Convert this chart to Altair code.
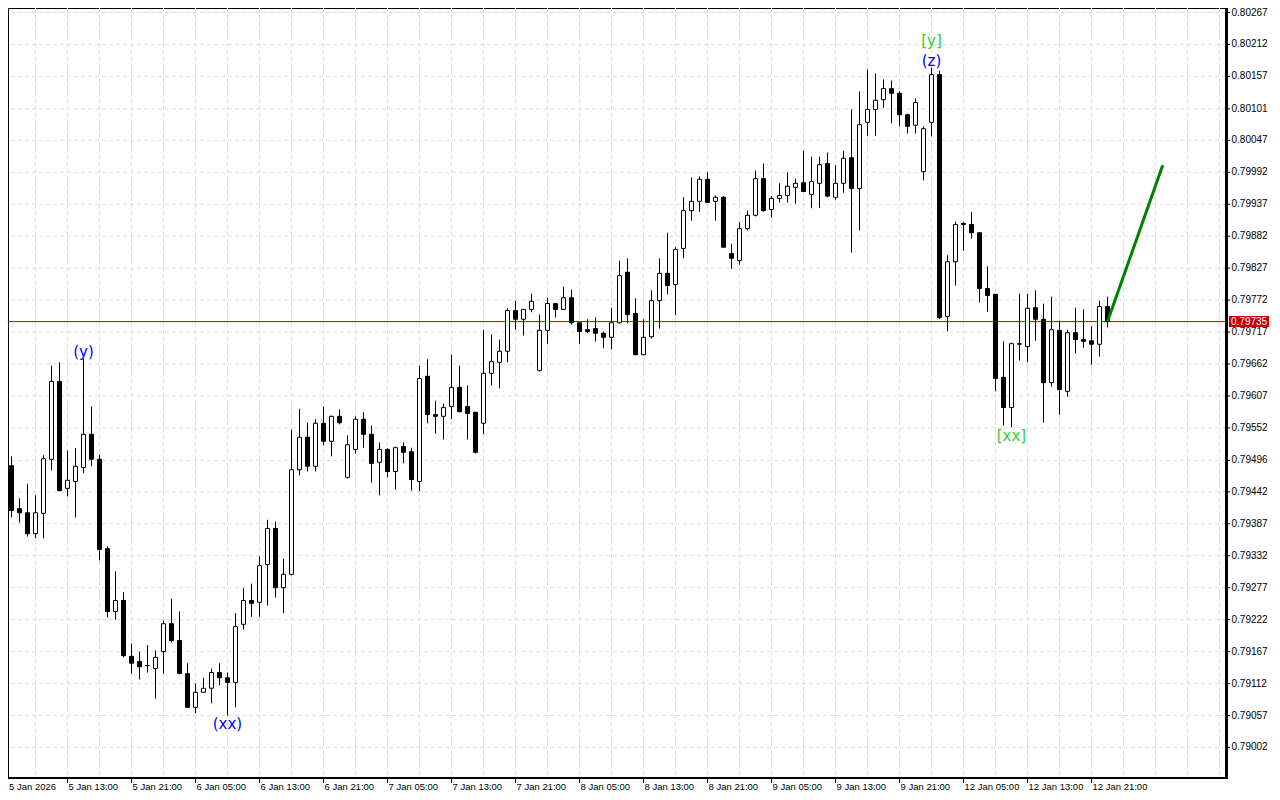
import altair as alt
import pandas as pd

# ---- OHLC of the hourly bars (5 Jan 2026 05:00 ... 12 Jan 2026 23:00) ----
open_ = [0.79357, 0.79487, 0.79413, 0.79406, 0.79370, 0.79405, 0.79498, 0.79632, 0.79448, 0.79460,
         0.79484, 0.79541, 0.79498, 0.79344, 0.79236, 0.79255, 0.79159, 0.79150, 0.79143, 0.79138,
         0.79167, 0.79215, 0.79186, 0.79129, 0.79071, 0.79097, 0.79104, 0.79131, 0.79122, 0.79114,
         0.79214, 0.79255, 0.79252, 0.79317, 0.79379, 0.79277, 0.79300, 0.79480, 0.79536, 0.79486,
         0.79560, 0.79529, 0.79572, 0.79467, 0.79515, 0.79567, 0.79541, 0.79493, 0.79515, 0.79477,
         0.79520, 0.79511, 0.79460, 0.79641, 0.79575, 0.79572, 0.79589, 0.79622, 0.79589, 0.79579,
         0.79560, 0.79646, 0.79665, 0.79684, 0.79754, 0.79739, 0.79756, 0.79651, 0.79720, 0.79766,
         0.79756, 0.79776, 0.79733, 0.79721, 0.79723, 0.79715, 0.79708, 0.79733, 0.79820, 0.79749,
         0.79678, 0.79709, 0.79771, 0.79818, 0.79799, 0.79861, 0.79926, 0.79942, 0.79980, 0.79942,
         0.79949, 0.79852, 0.79840, 0.79895, 0.79918, 0.79981, 0.79928, 0.79947, 0.79952, 0.79966,
         0.79974, 0.79954, 0.79973, 0.80007, 0.79949, 0.79973, 0.80017, 0.79964, 0.80078, 0.80100,
         0.80117, 0.80136, 0.80128, 0.80091, 0.80073, 0.79993, 0.80078, 0.80160, 0.79744, 0.79838,
         0.79904, 0.79902, 0.79888, 0.79792, 0.79782, 0.79639, 0.79587, 0.79696, 0.79692, 0.79759,
         0.79739, 0.79630, 0.79720, 0.79615, 0.79716, 0.79704, 0.79702, 0.79696, 0.79761]
high = [0.79499, 0.79503, 0.79431, 0.79456, 0.79436, 0.79505, 0.79659, 0.79665, 0.79513, 0.79517,
        0.79671, 0.79589, 0.79506, 0.79348, 0.79305, 0.79269, 0.79181, 0.79167, 0.79178, 0.79169,
        0.79221, 0.79258, 0.79236, 0.79147, 0.79112, 0.79122, 0.79138, 0.79147, 0.79131, 0.79233,
        0.79276, 0.79284, 0.79331, 0.79394, 0.79391, 0.79327, 0.79549, 0.79585, 0.79561, 0.79567,
        0.79589, 0.79573, 0.79584, 0.79539, 0.79572, 0.79579, 0.79556, 0.79527, 0.79517, 0.79520,
        0.79527, 0.79518, 0.79659, 0.79670, 0.79599, 0.79594, 0.79678, 0.79659, 0.79625, 0.79579,
        0.79721, 0.79713, 0.79704, 0.79758, 0.79771, 0.79756, 0.79783, 0.79747, 0.79776, 0.79766,
        0.79795, 0.79790, 0.79733, 0.79739, 0.79742, 0.79718, 0.79759, 0.79840, 0.79844, 0.79775,
        0.79739, 0.79789, 0.79844, 0.79888, 0.79863, 0.79949, 0.79983, 0.79985, 0.79992, 0.79952,
        0.79951, 0.79869, 0.79906, 0.79926, 0.79995, 0.80007, 0.79951, 0.79973, 0.79992, 0.79981,
        0.80029, 0.80019, 0.80019, 0.80026, 0.80004, 0.80029, 0.80100, 0.80131, 0.80169, 0.80162,
        0.80152, 0.80150, 0.80131, 0.80093, 0.80119, 0.80071, 0.80172, 0.80167, 0.79849, 0.79907,
        0.79906, 0.79924, 0.79888, 0.79830, 0.79782, 0.79701, 0.79699, 0.79783, 0.79783, 0.79789,
        0.79766, 0.79778, 0.79737, 0.79721, 0.79759, 0.79756, 0.79727, 0.79771, 0.79778]
low = [0.79350, 0.79398, 0.79389, 0.79365, 0.79362, 0.79362, 0.79479, 0.79443, 0.79434, 0.79398,
       0.79474, 0.79486, 0.79324, 0.79226, 0.79222, 0.79157, 0.79129, 0.79119, 0.79131, 0.79086,
       0.79129, 0.79183, 0.79129, 0.79071, 0.79061, 0.79097, 0.79078, 0.79109, 0.79057, 0.79071,
       0.79205, 0.79227, 0.79227, 0.79246, 0.79260, 0.79233, 0.79298, 0.79470, 0.79477, 0.79477,
       0.79522, 0.79503, 0.79558, 0.79465, 0.79508, 0.79518, 0.79458, 0.79436, 0.79467, 0.79446,
       0.79491, 0.79444, 0.79443, 0.79560, 0.79542, 0.79532, 0.79567, 0.79579, 0.79532, 0.79508,
       0.79541, 0.79625, 0.79620, 0.79665, 0.79721, 0.79711, 0.79751, 0.79649, 0.79697, 0.79742,
       0.79756, 0.79730, 0.79697, 0.79715, 0.79701, 0.79689, 0.79687, 0.79732, 0.79732, 0.79677,
       0.79677, 0.79706, 0.79723, 0.79782, 0.79746, 0.79844, 0.79909, 0.79924, 0.79940, 0.79909,
       0.79863, 0.79826, 0.79833, 0.79892, 0.79916, 0.79924, 0.79914, 0.79940, 0.79940, 0.79938,
       0.79959, 0.79930, 0.79931, 0.79949, 0.79945, 0.79957, 0.79854, 0.79892, 0.80055, 0.80055,
       0.80103, 0.80076, 0.80071, 0.80059, 0.80059, 0.79978, 0.80054, 0.79739, 0.79718, 0.79797,
       0.79857, 0.79878, 0.79768, 0.79752, 0.79615, 0.79556, 0.79553, 0.79668, 0.79665, 0.79702,
       0.79561, 0.79623, 0.79575, 0.79606, 0.79680, 0.79690, 0.79661, 0.79675, 0.79725]
close = [0.79486, 0.79410, 0.79406, 0.79370, 0.79406, 0.79499, 0.79632, 0.79444, 0.79462, 0.79486,
         0.79541, 0.79498, 0.79343, 0.79236, 0.79255, 0.79160, 0.79147, 0.79141, 0.79143, 0.79157,
         0.79215, 0.79186, 0.79129, 0.79071, 0.79097, 0.79104, 0.79131, 0.79122, 0.79114, 0.79210,
         0.79255, 0.79250, 0.79315, 0.79379, 0.79277, 0.79300, 0.79480, 0.79536, 0.79486, 0.79560,
         0.79529, 0.79572, 0.79561, 0.79523, 0.79567, 0.79541, 0.79491, 0.79515, 0.79477, 0.79518,
         0.79510, 0.79463, 0.79637, 0.79575, 0.79572, 0.79587, 0.79622, 0.79580, 0.79577, 0.79510,
         0.79646, 0.79666, 0.79684, 0.79754, 0.79739, 0.79756, 0.79770, 0.79720, 0.79766, 0.79756,
         0.79776, 0.79733, 0.79718, 0.79718, 0.79715, 0.79708, 0.79733, 0.79814, 0.79747, 0.79678,
         0.79708, 0.79771, 0.79818, 0.79797, 0.79859, 0.79926, 0.79942, 0.79980, 0.79940, 0.79949,
         0.79863, 0.79844, 0.79895, 0.79918, 0.79981, 0.79926, 0.79947, 0.79952, 0.79968, 0.79973,
         0.79959, 0.79976, 0.80005, 0.79951, 0.79973, 0.80016, 0.79964, 0.80074, 0.80100, 0.80116,
         0.80136, 0.80128, 0.80091, 0.80071, 0.80112, 0.80067, 0.80160, 0.79742, 0.79838, 0.79902,
         0.79902, 0.79888, 0.79792, 0.79780, 0.79637, 0.79587, 0.79697, 0.79697, 0.79758, 0.79739,
         0.79630, 0.79721, 0.79618, 0.79716, 0.79704, 0.79701, 0.79696, 0.79761, 0.79735]

# ---- axis labels and grid ----
x_label_bar = [0, 8, 16, 24, 32, 40, 48, 56, 64, 72, 80, 88, 96, 104, 112, 120, 128, 136]
x_label_text = ["5 Jan 2026", "5 Jan 13:00", "5 Jan 21:00", "6 Jan 05:00", "6 Jan 13:00",
                "6 Jan 21:00", "7 Jan 05:00", "7 Jan 13:00", "7 Jan 21:00", "8 Jan 05:00",
                "8 Jan 13:00", "8 Jan 21:00", "9 Jan 05:00", "9 Jan 13:00", "9 Jan 21:00",
                "12 Jan 05:00", "12 Jan 13:00", "12 Jan 21:00"]
x_grid_bar = list(range(4, 153, 4))
y_tick_values = [0.80267, 0.80212, 0.80157, 0.80101, 0.80047, 0.79992, 0.79937, 0.79882,
                 0.79827, 0.79772, 0.79717, 0.79662, 0.79607, 0.79552, 0.79496, 0.79442,
                 0.79387, 0.79332, 0.79277, 0.79222, 0.79167, 0.79112, 0.79057, 0.79002]

# ---- current price and forecast ----
last_price = [0.79735]
forecast_bar = [138, 144.9]
forecast_price = [0.79735, 0.80004]

# ---- wave labels ----
wave_text = ["(y)", "(xx)", "(z)", "[y]", "[xx]"]
wave_bar = [10, 28, 116, 116, 126]
wave_price = [0.79671, 0.79057, 0.80172, 0.80172, 0.79553]
wave_color = ["#0000FF", "#0000FF", "#0000FF", "#32CD32", "#32CD32"]
wave_pos = ["above", "below", "above", "above2", "below2"]

W, H = 1218, 770
FONT = "Liberation Sans"
FS_X = 9.5
FS_Y = 10
GRID = "#DDDDDD"
BLACK = "#000000"

candles = pd.DataFrame({
    "i": list(range(len(open_))),
    "open": open_, "high": high, "low": low, "close": close,
})
candles["body_lo"] = candles[["open", "close"]].min(axis=1)
candles["body_hi"] = candles[["open", "close"]].max(axis=1)
candles["bull"] = candles["close"] >= candles["open"]

xscale = alt.Scale(domain=[0.5625, 152.8125], nice=False, zero=False, padding=0)
yscale = alt.Scale(domain=[0.7894946, 0.8027476], nice=False, zero=False, padding=0)


def X(field):
    return alt.X(field, scale=xscale, axis=None)


def Y(field):
    return alt.Y(field, scale=yscale, axis=None)


one = pd.DataFrame({"k": [0]})

# ---- grid ----
ytick_df = pd.DataFrame({"v": y_tick_values})
hgrid = alt.Chart(ytick_df).mark_rule(color=GRID, strokeDash=[4, 3], strokeWidth=1).encode(
    y=Y("v:Q"))
vgrid = alt.Chart(pd.DataFrame({"g": x_grid_bar})).mark_rule(
    color=GRID, strokeDash=[4, 3], strokeWidth=1).encode(x=X("g:Q"))

# ---- candles ----
base = alt.Chart(candles)
wicks = base.mark_rule(color=BLACK, strokeWidth=1, clip=True).encode(
    x=X("i:Q"), y=Y("low:Q"), y2="high:Q")
bodies = base.mark_bar(size=4, stroke=BLACK, strokeWidth=1, clip=True).encode(
    x=X("i:Q"), y=Y("body_lo:Q"), y2="body_hi:Q",
    fill=alt.Fill("bull:N", scale=alt.Scale(domain=[True, False], range=["#FFFFFF", "#000000"]),
                  legend=None),
)

# ---- current price line ----
price_df = pd.DataFrame({"price": last_price})
price_line = alt.Chart(price_df).mark_rule(color="#C00000", strokeWidth=1).encode(y=Y("price:Q"))

# ---- forecast line ----
fc_df = pd.DataFrame({"i": forecast_bar, "price": forecast_price})
forecast = alt.Chart(fc_df).mark_line(color="#008000", strokeWidth=3, strokeCap="butt").encode(
    x=X("i:Q"), y=Y("price:Q"))

# ---- wave labels ----
wave_df = pd.DataFrame({"t": wave_text, "i": wave_bar, "price": wave_price,
                        "c": wave_color, "pos": wave_pos})


def wave_layer(pos, baseline, dy):
    return alt.Chart(wave_df).transform_filter(alt.datum.pos == pos).mark_text(
        font="DejaVu Sans", fontSize=15, baseline=baseline, dy=dy, align="center"
    ).encode(x=X("i:Q"), y=Y("price:Q"), text="t:N", color=alt.Color("c:N", scale=None))


waves = (wave_layer("above", "bottom", 1) + wave_layer("above2", "bottom", -19)
         + wave_layer("below", "top", 1) + wave_layer("below2", "top", 2))

# ---- axes drawn by hand ----
right_line = alt.Chart(one).mark_rule(color=BLACK, strokeWidth=3).encode(
    x=alt.value(W + 0.5), y=alt.value(0), y2=alt.value(H + 1))
bottom_line = alt.Chart(one).mark_rule(color=BLACK, strokeWidth=2).encode(
    x=alt.value(0), x2=alt.value(W + 2), y=alt.value(H))
ytick_marks = alt.Chart(ytick_df).mark_rule(color=BLACK, strokeWidth=1).encode(
    y=Y("v:Q"), x=alt.value(W), x2=alt.value(W + 4))
ylabels = alt.Chart(ytick_df).mark_text(
    align="left", baseline="middle", font=FONT, fontSize=FS_Y, color=BLACK
).encode(y=Y("v:Q"), x=alt.value(W + 5.5), text=alt.Text("v:Q", format=".5f"))

xlab_df = pd.DataFrame({"bar": x_label_bar, "label": x_label_text})
xtick_marks = alt.Chart(xlab_df).transform_filter(alt.datum.bar > 0).mark_rule(
    color=BLACK, strokeWidth=1).encode(x=X("bar:Q"), y=alt.value(H), y2=alt.value(H + 5))
xlabels = alt.Chart(xlab_df).transform_calculate(lx="max(datum.bar, 0.5625)").mark_text(
    align="left", baseline="middle", font=FONT, fontSize=FS_X, color=BLACK, dx=1
).encode(x=X("lx:Q"), y=alt.value(H + 9), text="label:N")

# ---- price tag ----
price_box = alt.Chart(price_df).mark_rect(color="#C80000", yOffset=-5.5, y2Offset=5.5).encode(
    x=alt.value(W + 3), x2=alt.value(W + 43), y=Y("price:Q"), y2="price:Q")
price_text = alt.Chart(price_df).mark_text(
    align="left", baseline="middle", color="#FFFFFF", font=FONT, fontSize=FS_Y
).encode(x=alt.value(W + 5), y=Y("price:Q"), text=alt.Text("price:Q", format=".5f"))

chart = alt.layer(
    hgrid, vgrid, price_line, wicks, bodies, forecast, waves,
    right_line, bottom_line, ytick_marks, ylabels, xtick_marks, xlabels,
    price_box, price_text
).properties(
    width=W, height=H,
    autosize=alt.AutoSizeParams(type="none"),
    padding={"left": 0, "top": 0, "right": 44, "bottom": 13},
    background="#FFFFFF",
).configure_view(
    stroke=BLACK, strokeWidth=1,
)

chart.save("out.html", embed_options={"renderer": "svg", "actions": False})
